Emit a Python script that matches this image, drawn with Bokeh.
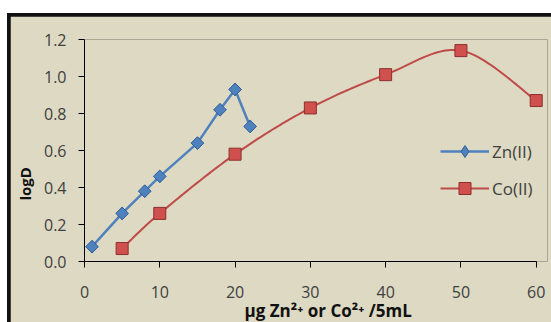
import numpy as np
from math import pi
from bokeh.plotting import figure
from bokeh.layouts import column
from bokeh.models import Range1d, FixedTicker, NumeralTickFormatter, Title, Legend, LegendItem
from bokeh.embed import file_html
from bokeh.resources import INLINE

# ---- data ----
zn_x = [1, 5, 8, 10, 15, 18, 20, 22]
zn_y = [0.08, 0.26, 0.38, 0.46, 0.64, 0.82, 0.93, 0.73]
co_x = [5, 10, 20, 30, 40, 50, 60]
co_y = [0.07, 0.26, 0.58, 0.83, 1.01, 1.14, 0.87]
x_ticks = [0, 10, 20, 30, 40, 50, 60]
y_ticks = [0.0, 0.2, 0.4, 0.6, 0.8, 1.0, 1.2]
x_title = "µg Zn²⁺ or Co²⁺ /5mL"
y_title = "logD"

BG = "#DDD9C3"
FONT = "Open Sans"


def smooth(xs, ys, n=30):
    # Excel-like smoothed line: cubic Bezier segments through the data points
    P = np.column_stack([xs, ys]).astype(float)
    out = []
    for i in range(len(P) - 1):
        p0 = P[i - 1] if i > 0 else P[i]
        p1, p2 = P[i], P[i + 1]
        p3 = P[i + 2] if i + 2 < len(P) else P[i + 1]
        c1 = p1 + (p2 - p0) / 6.0
        c2 = p2 - (p3 - p1) / 6.0
        t = np.linspace(0, 1, n)[:, None]
        seg = ((1 - t) ** 3) * p1 + 3 * ((1 - t) ** 2) * t * c1 + 3 * (1 - t) * t ** 2 * c2 + t ** 3 * p2
        out.append(seg if i == 0 else seg[1:])
    arr = np.vstack(out)
    return arr[:, 0], arr[:, 1]


p = figure(
    frame_width=463, frame_height=222,
    x_range=Range1d(0, 61.5), y_range=Range1d(0, 1.2),
    output_backend="svg", toolbar_location=None,
    background_fill_color=BG, border_fill_color=BG,
    min_border_left=73, min_border_right=5, min_border_top=23, min_border_bottom=61,
)
p.margin = (3, 0, 0, 3)
p.outline_line_color = None
p.grid.visible = False

for ax in (p.xaxis[0], p.yaxis[0]):
    ax.axis_line_color = "black"
    ax.axis_line_width = 1
    ax.major_tick_line_color = "black"
    ax.major_tick_in = 0
    ax.major_tick_out = 6
    ax.minor_tick_line_color = None
    ax.major_label_text_font = FONT
    ax.major_label_text_font_size = "16px"
    ax.major_label_text_color = "#404040"

p.xaxis.ticker = FixedTicker(ticks=x_ticks)
p.xaxis.bounds = (0, 60)
p.xaxis.major_label_standoff = 18
p.yaxis.ticker = FixedTicker(ticks=y_ticks)
p.yaxis.formatter = NumeralTickFormatter(format="0.0")
p.yaxis.major_label_standoff = 12

# Zn(II)
zl = p.line(zn_x, zn_y, line_color="#4F81BD", line_width=2.5)
zd = p.scatter(zn_x, zn_y, marker="diamond", size=12,
               fill_color="#4F81BD", line_color="#2F5E97", line_width=1)
zs = p.scatter(zn_x, zn_y, marker="square", angle=pi / 4, size=9,
               fill_color="#4F81BD", line_color="#2F5E97", line_width=1)

# Co(II)
sx, sy = smooth(co_x, co_y)
cl = p.line(sx, sy, line_color="#BE4B48", line_width=2)
cs = p.scatter(co_x, co_y, marker="square", size=12,
               fill_color="#D0504D", line_color="#8C2F2C", line_width=1)

legend = Legend(
    items=[LegendItem(label="Zn(II)", renderers=[zl, zd]),
           LegendItem(label="Co(II)", renderers=[cl, cs])],
    location=(356, 58),
    background_fill_alpha=0, border_line_color=None,
    glyph_width=49, glyph_height=30, label_height=30, spacing=7,
    padding=0, margin=0, label_standoff=3,
    label_text_font=FONT, label_text_font_size="17px", label_text_color="#404040",
)
p.add_layout(legend)

p.add_layout(Title(text=y_title, align="left", offset=61, standoff=8, vertical_align="top",
                   text_font=FONT, text_font_style="bold", text_font_size="15px",
                   text_color="#111111"), "left")
p.add_layout(Title(text=x_title, align="left", offset=160, standoff=-7,
                   text_font=FONT, text_font_style="bold", text_font_size="17px",
                   text_color="#111111"), "below")

layout = column(p, margin=(13, 0, 0, 7), styles={"background-color": "#111111"})

open("out.html", "w").write(file_html(layout, INLINE))
